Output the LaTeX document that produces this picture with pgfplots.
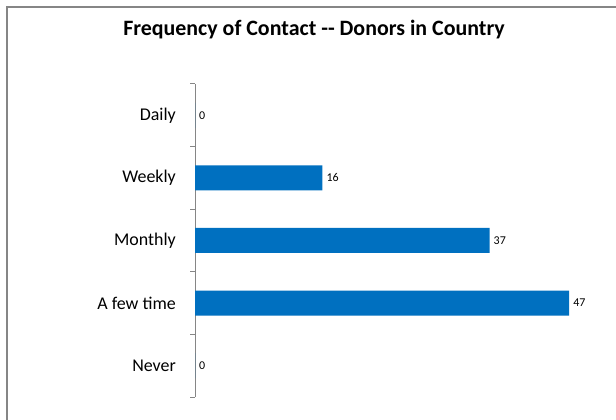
\documentclass[border=0pt]{standalone}
\usepackage{fontspec}
\setmainfont{Carlito}
\usepackage{pgfplots}
\pgfplotsset{compat=1.18}

\definecolor{barblue}{RGB}{0,112,192}
\definecolor{framegray}{RGB}{134,134,134}
\definecolor{axisgray}{RGB}{134,134,134}

\begin{document}
\begin{tikzpicture}
  \path[use as bounding box] (0,0) rectangle (616bp,420bp);
  \fill[white] (-20bp,-20bp) rectangle (640bp,440bp);
  % chart frame, cut off on the right and bottom
  \draw[framegray, line width=1.5bp] (7bp,-5bp) -- (7bp,413bp) -- (630bp,413bp);
  \node[font=\fontsize{22}{25}\selectfont\bfseries] at (314bp,390bp) {Frequency of Contact -{}- Donors in Country};
  \begin{axis}[
      at={(195bp,23bp)}, anchor=south west,
      scale only axis, width=398bp, height=313bp,
      xbar, bar width=25bp,
      xmin=0, xmax=50,
      ymin=-0.5, ymax=4.5,
      axis x line=none,
      axis y line*=left,
      y axis line style={axisgray, line width=1bp},
      ytick={0,1,2,3,4},
      yticklabels={Never, {A few time\ }, Monthly, Weekly, Daily},
      major tick length=0pt,
      minor ytick={-0.5,0.5,1.5,2.5,3.5,4.5},
      minor tick length=5bp,
      tick align=outside,
      minor tick style={axisgray, line width=1bp},
      yticklabel style={font=\fontsize{18}{20}\selectfont, anchor=east, inner sep=0pt, xshift=-19bp},
      /pgf/number format/assume math mode=true,
      nodes near coords,
      every node near coord/.append style={font=\fontsize{12}{14}\selectfont, black, anchor=west, inner sep=0pt, xshift=4bp},
      clip=false,
    ]
    \addplot[fill=barblue, draw=none] coordinates {(0,0) (47,1) (37,2) (16,3) (0,4)};
  \end{axis}
\end{tikzpicture}
\end{document}
